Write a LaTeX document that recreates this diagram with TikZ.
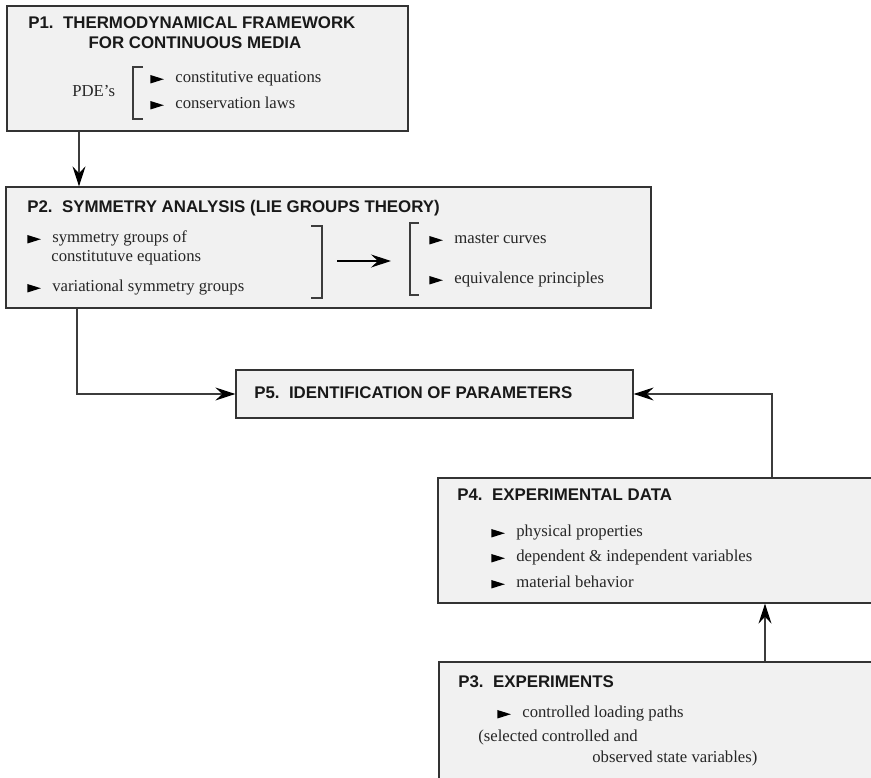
\documentclass[tikz,border=0pt]{standalone}
\usepackage{fontspec}
\setmainfont{Liberation Serif}
\setsansfont{Liberation Sans}
\usepackage{xcolor}
\usepackage{tikz}
\usetikzlibrary{arrows.meta,positioning,calc}
\definecolor{bfill}{HTML}{F1F1F1}
\definecolor{bdraw}{HTML}{333333}
\definecolor{lgray}{HTML}{3C3C3C}
\tikzset{
  % grey panel, size given per node
  box/.style  = {rectangle, draw=bdraw, fill=bfill, line width=0.75pt, inner sep=0pt},
  ttl/.style  = {font=\fontsize{9.6}{11.5}\selectfont\sffamily\bfseries, text=black!90, inner sep=0pt},
  txt/.style  = {font=\fontsize{9.5}{11.4}\selectfont, text=black!85, inner sep=0pt},
  arr/.style  = {-{Stealth[length=4mm, width=2.6mm, inset=1.4mm, color=black]}, line width=0.6pt, lgray},
  brk/.style  = {line width=0.6pt, lgray},
}
\newcommand{\tri}{\tikz[baseline=0pt]\fill[black] (0,-0.1mm) -- (2.7mm,0.75mm) -- (0,1.6mm) -- cycle;\hspace{2.3mm}}

\begin{document}
\begin{tikzpicture}[x=0.2mm, y=-0.2mm]
\useasboundingbox (0,0) rectangle (871,778);
\clip (0,0) rectangle (871,778);
% --- panels -----------------------------------------------------------
\node[box, minimum width=80.2mm, minimum height=25mm]   (p1) at (207.5,68.5) {};
\node[box, minimum width=129mm,  minimum height=24.2mm] (p2) at (328.5,247.5) {};
\node[box, minimum width=79.4mm, minimum height=9.6mm]  (p5) at (434.5,394) {};
\node[box, minimum width=94.4mm, minimum height=25mm]   (p4) at (674,540.5) {};
\node[box, minimum width=94.2mm, minimum height=29.6mm] (p3) at (674.5,736) {};

% --- P1 ---------------------------------------------------------------
\node[ttl, anchor=base west] (p1a) at (28,29) {P1.\ \ THERMODYNAMICAL FRAMEWORK};
\node[ttl, anchor=base]      (p1b) at (195,49) {FOR CONTINUOUS MEDIA};
\node[txt, anchor=base west] (pde) at (72,97) {PDE's};
\draw[brk] (143,67) -- (133,67) -- (133,119) -- (143,119);
\node[txt, anchor=base west] (p1i1) at (150,83)  {\tri constitutive equations};
\node[txt, anchor=base west] (p1i2) at (150,109) {\tri conservation laws};

% --- P2 ---------------------------------------------------------------
\node[ttl, anchor=base west] (p2a) at (27,213) {P2.\ \ SYMMETRY ANALYSIS (LIE GROUPS THEORY)};
\node[txt, anchor=base west] (p2i1) at (27,243) {\tri symmetry groups of};
\node[txt, anchor=base west] (p2i1b) at (51,262) {constitutuve equations};
\node[txt, anchor=base west] (p2i2) at (27,292) {\tri variational symmetry groups};
\draw[brk] (311,226) -- (322,226) -- (322,298) -- (311,298);
\draw[brk] (419,223) -- (410,223) -- (410,295) -- (419,295);
\coordinate (m1) at (337,261);
\coordinate (m2) at (391,261);
\draw[arr, black] (m1) -- (m2);
\node[txt, anchor=base west] (p2r1) at (429,244) {\tri master curves};
\node[txt, anchor=base west] (p2r2) at (429,284) {\tri equivalence principles};

% --- P5 ---------------------------------------------------------------
\node[ttl, anchor=base west] (p5a) at (254,399) {P5.\ \ IDENTIFICATION OF PARAMETERS};

% --- P4 ---------------------------------------------------------------
\node[ttl, anchor=base west] (p4a) at (457,501) {P4.\ \ EXPERIMENTAL DATA};
\node[txt, anchor=base west] (p4i1) at (491,537) {\tri physical properties};
\node[txt, anchor=base west] (p4i2) at (491,562) {\tri dependent \& independent variables};
\node[txt, anchor=base west] (p4i3) at (491,588) {\tri material behavior};

% --- P3 ---------------------------------------------------------------
\node[ttl, anchor=base west] (p3a) at (458,688) {P3.\ \ EXPERIMENTS};
\node[txt, anchor=base west] (p3i1) at (497,718) {\tri controlled loading paths};
\node[txt, anchor=base west] (p3n1) at (478,742) {(selected controlled and};
\node[txt, anchor=base west] (p3n2) at (592,763) {observed state variables)};

% --- connectors -------------------------------------------------------
\coordinate (x12) at (79,0);
\coordinate (x25) at (77,0);
\coordinate (x45) at (772,0);
\coordinate (x34) at (765,0);
\draw[arr] (p1.south -| x12) -- (p2.north -| x12);
\draw[arr] (p2.south -| x25) |- (p5.west);
\draw[arr] (p4.north -| x45) |- (p5.east);
\draw[arr] (p3.north -| x34) -- (p4.south -| x34);
\end{tikzpicture}
\end{document}
